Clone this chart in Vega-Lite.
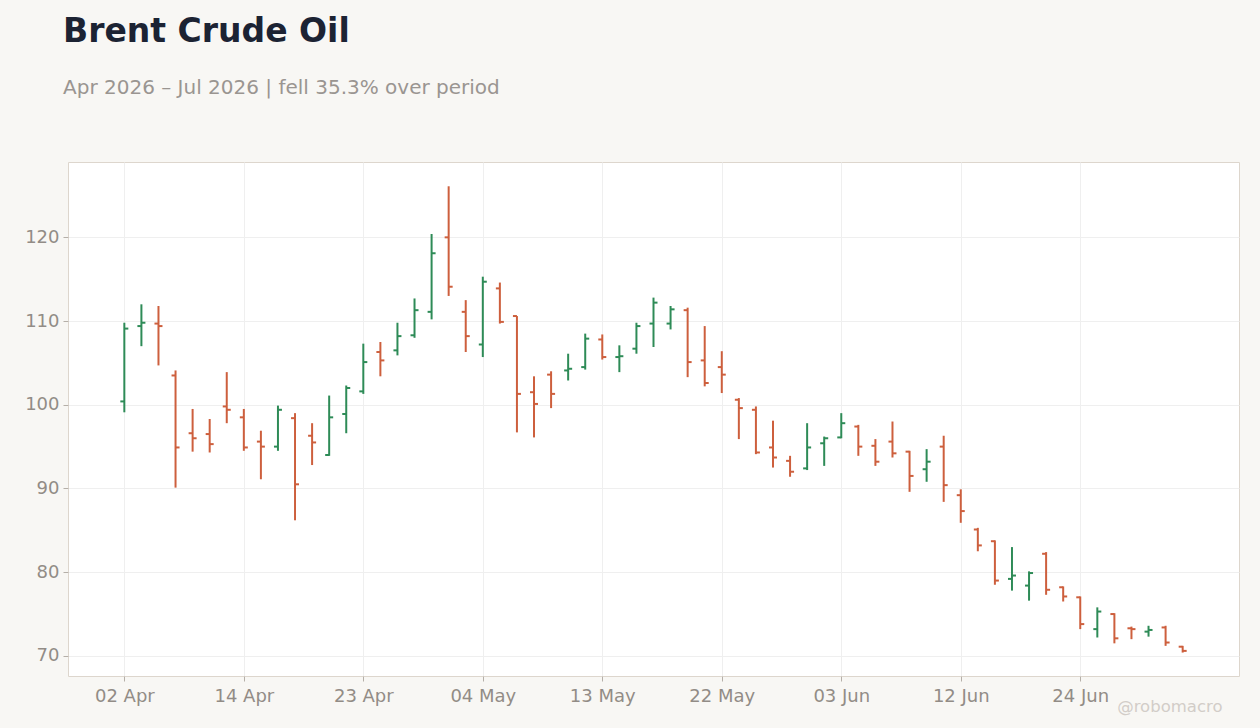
{
  "$schema": "https://vega.github.io/schema/vega-lite/v6.json",
  "autosize": "none",
  "width": 1171,
  "height": 514,
  "padding": {"left": 68, "top": 162, "right": 21, "bottom": 52},
  "background": "#f8f7f4",
  "config": {
    "font": "DejaVu Sans",
    "view": {"fill": "#ffffff", "stroke": "#ddd6cd", "strokeWidth": 1},
    "axis": {
      "labelFont": "DejaVu Sans",
      "labelFontSize": 18,
      "labelColor": "#928c86",
      "tickColor": "#b5afa8",
      "tickSize": 5,
      "domain": false,
      "gridColor": "#efefef",
      "gridWidth": 1
    }
  },
  "title": {
    "text": "Brent Crude Oil",
    "subtitle": "Apr 2026 – Jul 2026 | fell 35.3% over period",
    "anchor": "start",
    "frame": "group",
    "dx": -5,
    "offset": 64,
    "font": "DejaVu Sans",
    "fontSize": 33,
    "fontWeight": "bold",
    "color": "#1c2333",
    "subtitleFont": "DejaVu Sans",
    "subtitleFontSize": 20,
    "subtitleColor": "#9a9591",
    "subtitlePadding": 29
  },
  "data": {
    "values": [
      {"i": 0, "d": "02 Apr", "o": 100.4, "h": 109.8, "l": 99.1, "c": 109.1},
      {"i": 1, "d": "06 Apr", "o": 109.4, "h": 112.0, "l": 107.0, "c": 109.8},
      {"i": 2, "d": "07 Apr", "o": 109.7, "h": 111.8, "l": 104.7, "c": 109.4},
      {"i": 3, "d": "08 Apr", "o": 103.5, "h": 104.1, "l": 90.1, "c": 94.9},
      {"i": 4, "d": "09 Apr", "o": 96.6, "h": 99.5, "l": 94.4, "c": 96.0},
      {"i": 5, "d": "10 Apr", "o": 96.5, "h": 98.3, "l": 94.3, "c": 95.3},
      {"i": 6, "d": "13 Apr", "o": 99.8, "h": 103.9, "l": 97.8, "c": 99.4},
      {"i": 7, "d": "14 Apr", "o": 98.5, "h": 99.5, "l": 94.5, "c": 94.9},
      {"i": 8, "d": "15 Apr", "o": 95.6, "h": 96.9, "l": 91.1, "c": 95.0},
      {"i": 9, "d": "16 Apr", "o": 95.0, "h": 99.9, "l": 94.5, "c": 99.4},
      {"i": 10, "d": "17 Apr", "o": 98.4, "h": 99.0, "l": 86.2, "c": 90.5},
      {"i": 11, "d": "20 Apr", "o": 96.3, "h": 97.8, "l": 92.8, "c": 95.5},
      {"i": 12, "d": "21 Apr", "o": 94.0, "h": 101.1, "l": 93.9, "c": 98.5},
      {"i": 13, "d": "22 Apr", "o": 98.9, "h": 102.3, "l": 96.6, "c": 102.0},
      {"i": 14, "d": "23 Apr", "o": 101.6, "h": 107.3, "l": 101.3, "c": 105.1},
      {"i": 15, "d": "24 Apr", "o": 106.3, "h": 107.5, "l": 103.4, "c": 105.3},
      {"i": 16, "d": "27 Apr", "o": 106.5, "h": 109.8, "l": 105.9, "c": 108.2},
      {"i": 17, "d": "28 Apr", "o": 108.3, "h": 112.7, "l": 108.0, "c": 111.3},
      {"i": 18, "d": "29 Apr", "o": 111.1, "h": 120.4, "l": 110.2, "c": 118.1},
      {"i": 19, "d": "30 Apr", "o": 120.0, "h": 126.1, "l": 113.0, "c": 114.1},
      {"i": 20, "d": "01 May", "o": 111.1, "h": 112.5, "l": 106.3, "c": 108.2},
      {"i": 21, "d": "04 May", "o": 107.2, "h": 115.3, "l": 105.7, "c": 114.7},
      {"i": 22, "d": "05 May", "o": 113.9, "h": 114.6, "l": 109.7, "c": 109.9},
      {"i": 23, "d": "06 May", "o": 110.6, "h": 110.6, "l": 96.7, "c": 101.3},
      {"i": 24, "d": "07 May", "o": 101.5, "h": 103.4, "l": 96.1, "c": 100.1},
      {"i": 25, "d": "08 May", "o": 103.6, "h": 104.0, "l": 99.6, "c": 101.3},
      {"i": 26, "d": "11 May", "o": 104.1, "h": 106.1, "l": 102.9, "c": 104.3},
      {"i": 27, "d": "12 May", "o": 104.5, "h": 108.5, "l": 104.2, "c": 107.9},
      {"i": 28, "d": "13 May", "o": 107.8, "h": 108.4, "l": 105.4, "c": 105.7},
      {"i": 29, "d": "14 May", "o": 105.7, "h": 107.1, "l": 103.9, "c": 105.8},
      {"i": 30, "d": "15 May", "o": 106.7, "h": 109.8, "l": 106.1, "c": 109.4},
      {"i": 31, "d": "18 May", "o": 109.7, "h": 112.8, "l": 106.9, "c": 112.2},
      {"i": 32, "d": "19 May", "o": 109.7, "h": 111.8, "l": 109.0, "c": 111.4},
      {"i": 33, "d": "20 May", "o": 111.3, "h": 111.6, "l": 103.3, "c": 105.1},
      {"i": 34, "d": "21 May", "o": 105.3, "h": 109.4, "l": 102.2, "c": 102.6},
      {"i": 35, "d": "22 May", "o": 104.5, "h": 106.4, "l": 101.4, "c": 103.6},
      {"i": 36, "d": "26 May", "o": 100.6, "h": 100.8, "l": 95.9, "c": 99.6},
      {"i": 37, "d": "27 May", "o": 99.4, "h": 99.8, "l": 94.1, "c": 94.3},
      {"i": 38, "d": "28 May", "o": 94.9, "h": 98.1, "l": 92.5, "c": 93.7},
      {"i": 39, "d": "29 May", "o": 93.3, "h": 93.9, "l": 91.4, "c": 92.0},
      {"i": 40, "d": "01 Jun", "o": 92.4, "h": 97.8, "l": 92.2, "c": 94.9},
      {"i": 41, "d": "02 Jun", "o": 95.4, "h": 96.2, "l": 92.7, "c": 96.0},
      {"i": 42, "d": "03 Jun", "o": 96.1, "h": 99.0, "l": 96.0, "c": 97.8},
      {"i": 43, "d": "04 Jun", "o": 97.4, "h": 97.6, "l": 93.9, "c": 95.0},
      {"i": 44, "d": "05 Jun", "o": 95.1, "h": 95.9, "l": 92.7, "c": 93.2},
      {"i": 45, "d": "08 Jun", "o": 95.6, "h": 98.0, "l": 93.7, "c": 94.2},
      {"i": 46, "d": "09 Jun", "o": 94.4, "h": 94.5, "l": 89.6, "c": 91.5},
      {"i": 47, "d": "10 Jun", "o": 92.3, "h": 94.7, "l": 90.8, "c": 93.2},
      {"i": 48, "d": "11 Jun", "o": 95.0, "h": 96.3, "l": 88.4, "c": 90.4},
      {"i": 49, "d": "12 Jun", "o": 89.2, "h": 89.9, "l": 85.9, "c": 87.3},
      {"i": 50, "d": "15 Jun", "o": 85.1, "h": 85.3, "l": 82.5, "c": 83.2},
      {"i": 51, "d": "16 Jun", "o": 83.7, "h": 83.8, "l": 78.5, "c": 79.0},
      {"i": 52, "d": "17 Jun", "o": 79.2, "h": 83.0, "l": 77.8, "c": 79.6},
      {"i": 53, "d": "18 Jun", "o": 78.4, "h": 80.1, "l": 76.6, "c": 79.9},
      {"i": 54, "d": "22 Jun", "o": 82.2, "h": 82.4, "l": 77.3, "c": 77.9},
      {"i": 55, "d": "23 Jun", "o": 78.2, "h": 78.3, "l": 76.5, "c": 77.1},
      {"i": 56, "d": "24 Jun", "o": 77.0, "h": 77.1, "l": 73.2, "c": 73.8},
      {"i": 57, "d": "25 Jun", "o": 73.2, "h": 75.8, "l": 72.2, "c": 75.3},
      {"i": 58, "d": "26 Jun", "o": 75.0, "h": 75.1, "l": 71.5, "c": 72.1},
      {"i": 59, "d": "29 Jun", "o": 73.3, "h": 73.5, "l": 72.0, "c": 73.2},
      {"i": 60, "d": "30 Jun", "o": 72.9, "h": 73.6, "l": 72.3, "c": 73.1},
      {"i": 61, "d": "01 Jul", "o": 73.4, "h": 73.6, "l": 71.2, "c": 71.6},
      {"i": 62, "d": "02 Jul", "o": 71.1, "h": 71.2, "l": 70.4, "c": 70.6}
    ]
  },
  "encoding": {
    "x": {
      "field": "i",
      "type": "quantitative",
      "scale": {"domain": [-3.3, 65.3], "nice": false, "zero": false},
      "axis": {
        "values": [0, 7, 14, 21, 28, 35, 42, 49, 56],
        "labelExpr": "['02 Apr','14 Apr','23 Apr','04 May','13 May','22 May','03 Jun','12 Jun','24 Jun'][round(datum.value / 7)]",
        "labelAngle": 0,
        "labelPadding": 6,
        "labelFlush": false,
        "grid": true,
        "title": "@robomacro",
        "titleFont": "DejaVu Sans",
        "titleFontSize": 16.5,
        "titleFontWeight": "normal",
        "titleColor": "#d2cdc8",
        "titleAlign": "right",
        "titleBaseline": "alphabetic",
        "titleX": 1154,
        "titleY": 35
      }
    },
    "color": {
      "condition": {"test": "datum.c >= datum.o", "value": "#2e8b57"},
      "value": "#cd5f3d"
    }
  },
  "layer": [
    {
      "mark": {"type": "rule", "strokeWidth": 2},
      "encoding": {
        "y": {
          "field": "l",
          "type": "quantitative",
          "scale": {"domain": [67.6, 129], "nice": false, "zero": false},
          "axis": {"values": [70, 80, 90, 100, 110, 120], "title": null, "labelPadding": 4, "grid": true}
        },
        "y2": {"field": "h"}
      }
    },
    {
      "mark": {"type": "tick", "orient": "horizontal", "size": 4, "thickness": 2, "xOffset": -2, "opacity": 1},
      "encoding": {"y": {"field": "o", "type": "quantitative"}}
    },
    {
      "mark": {"type": "tick", "orient": "horizontal", "size": 4, "thickness": 2, "xOffset": 2, "opacity": 1},
      "encoding": {"y": {"field": "c", "type": "quantitative"}}
    }
  ]
}
